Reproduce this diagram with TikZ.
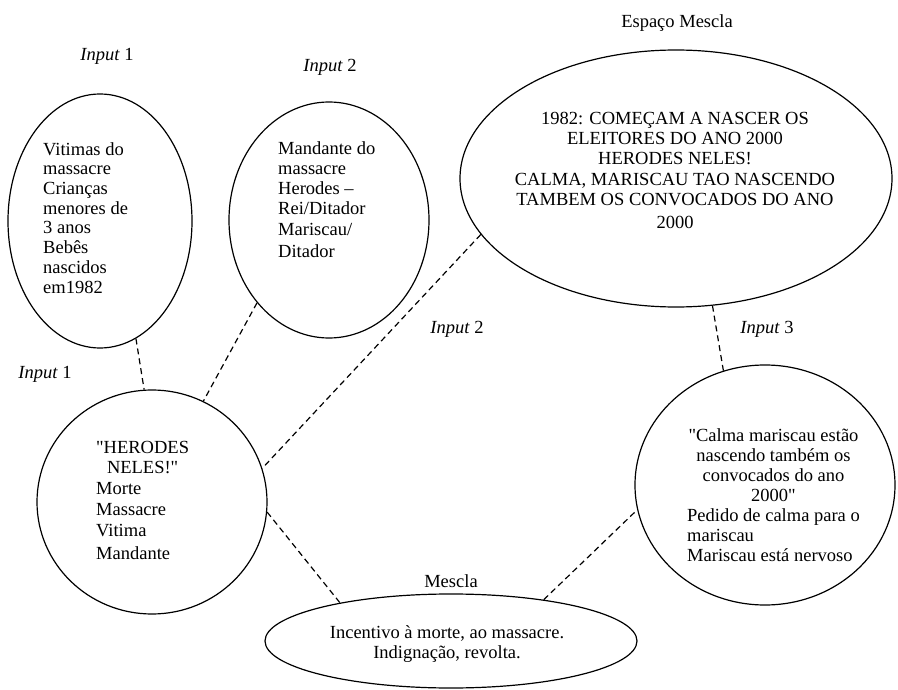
\documentclass[tikz,border=0pt]{standalone}
\usepackage{fontspec}
\setmainfont{Liberation Serif}
% same face without the TeX mapping, so that " stays a straight quote
\newfontfamily\plainq{Liberation Serif}
\usetikzlibrary{shapes.geometric}
\newcommand\centred[1]{\multicolumn{1}{@{}c@{}}{#1}}
\newcommand\dq{{\plainq"}}
\begin{document}
\begin{tikzpicture}[x=1pt,y=-1pt,
  bubble/.style={draw, ellipse, line width=1.2pt, inner sep=0pt},
  link/.style={line width=1.2pt, dash pattern=on 6pt off 4pt},
  body/.style={inner sep=0pt, font=\fontsize{18.5}{#1}\selectfont},
  lbl/.style={inner sep=0pt, anchor=base, font=\fontsize{18.5}{22}\selectfont}]
\useasboundingbox (0,0) rectangle (898,690);

% spaces
\node[bubble, minimum width=184pt, minimum height=254pt] (in1a)  at (100,221)   {};
\node[bubble, minimum width=200pt, minimum height=236pt] (in2)   at (329,220)   {};
\node[bubble, minimum width=432pt, minimum height=257pt] (blend) at (676,178.5) {};
\node[bubble, minimum width=230pt, minimum height=224pt] (in1b)  at (152,502)   {};
\node[bubble, minimum width=260pt, minimum height=240pt] (in3)   at (765,485)   {};
\node[bubble, minimum width=372pt, minimum height=94pt]  (mix)   at (451,641)   {};

% contents
\node[body=19.7, anchor=north west] (t1a) at (43,141.2)
  {\begin{tabular}{@{}l@{}}Vitimas do\\massacre\\Crianças\\menores de\\3 anos\\Bebês\\nascidos\\em1982\end{tabular}};
\node[body=20.2, anchor=north west] (t2) at (278,139.9)
  {\begin{tabular}{@{}l@{}}Mandante do\\massacre\\Herodes –\\Rei/Ditador\\Mariscau/\\[2.5pt]Ditador\end{tabular}};
\node[body=20.3, anchor=north] (tb) at (675,109.8)
  {\begin{tabular}{@{}c@{}}1982: COMEÇAM A NASCER OS\\ELEITORES DO ANO 2000\\HERODES NELES!\\CALMA, MARISCAU TAO NASCENDO\\TAMBEM OS CONVOCADOS DO ANO\\[2.5pt]2000\end{tabular}};
\node[body=20.8, anchor=north west] (t1b) at (96,438.3)
  {\begin{tabular}{@{}l@{}}\centred{\dq HERODES}\\\centred{NELES!\dq}\\Morte\\Massacre\\Vitima\\[2pt]Mandante\end{tabular}};
\node[body=20, anchor=north west] (t3) at (687,427)
  {\begin{tabular}{@{}l@{}}\centred{\dq Calma mariscau estão}\\\centred{nascendo também os}\\\centred{convocados do ano}\\\centred{2000\dq}\\Pedido de calma para o\\mariscau\\Mariscau está nervoso\end{tabular}};
\node[body=20, anchor=north] (tm) at (447,624)
  {\begin{tabular}{@{}c@{}}Incentivo à morte, ao massacre.\\Indignação, revolta.\end{tabular}};

% titles
\node[lbl] (l1a) at (107,61)  {\textit{Input} 1};
\node[lbl] (l2a) at (330,72)  {\textit{Input} 2};
\node[lbl] (lb)  at (677,28)  {Espaço Mescla};
\node[lbl] (l1b) at (45,378)  {\textit{Input} 1};
\node[lbl] (l2b) at (457,333) {\textit{Input} 2};
\node[lbl] (l3)  at (767,333) {\textit{Input} 3};
\node[lbl] (lm)  at (451,587) {Mescla};

% projections
\draw[link] (in1a.-73.5)   -- (in1b.94.5);
\draw[link] (in2.-131.5)   -- (in1b.63.9);
\draw[link] (blend.-164.5) -- (in1b.17.2);
\draw[link] (in1b.-5)      -- (mix.161.9);
\draw[link] (mix.24.6)     -- (in3.-169.4);
\draw[link] (blend.-74.1)  -- (in3.110.2);
\end{tikzpicture}
\end{document}
